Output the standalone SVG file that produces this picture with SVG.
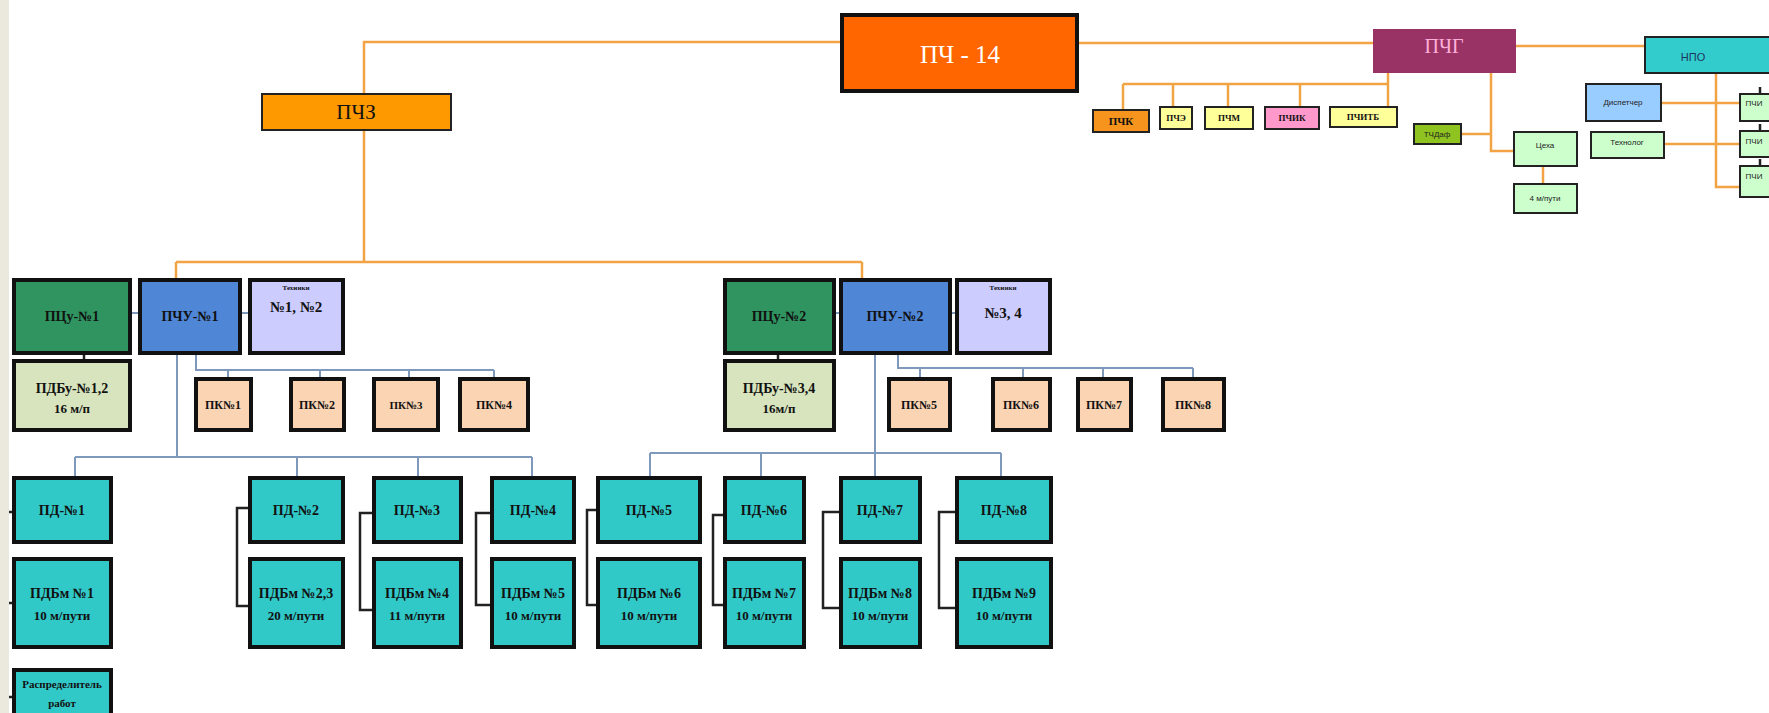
<svg xmlns="http://www.w3.org/2000/svg" width="1769" height="713" viewBox="0 0 1769 713">
<style>
  .t{font-family:"Liberation Serif","DejaVu Serif",serif;font-weight:bold;fill:#111;text-anchor:middle;dominant-baseline:central}
  .s{font-family:"Liberation Sans","DejaVu Sans",sans-serif;fill:#222;text-anchor:middle;dominant-baseline:central}
  .or{stroke:#f2a444;stroke-width:2.5;fill:none}
  .bl{stroke:#7f99bd;stroke-width:2;fill:none}
  .bk{stroke:#222;stroke-width:2.5;fill:none}
  .thick{stroke:#111;stroke-width:4}
  .thin{stroke:#222;stroke-width:2}
  .pd{fill:#31c8c8}
  .pk{fill:#fbd4b3}
</style>
<rect x="0" y="0" width="1769" height="713" fill="#ffffff"/>
<rect x="0" y="0" width="9" height="713" fill="#ebe8dd"/>

<g id="connectors">
  <!-- orange top -->
  <polyline class="or" points="364,262 364,42 840,42"/>
  <line class="or" x1="1079" y1="43" x2="1373" y2="43"/>
  <line class="or" x1="1516" y1="46" x2="1645" y2="46"/>
  <line class="or" x1="176" y1="262" x2="862" y2="262"/>
  <line class="or" x1="176" y1="262" x2="176" y2="279"/>
  <line class="or" x1="862" y1="262" x2="862" y2="279"/>
  <!-- small row -->
  <line class="or" x1="1123" y1="84" x2="1388" y2="84"/>
  <line class="or" x1="1388" y1="73" x2="1388" y2="107"/>
  <line class="or" x1="1123" y1="84" x2="1123" y2="110"/>
  <line class="or" x1="1173" y1="84" x2="1173" y2="107"/>
  <line class="or" x1="1228" y1="84" x2="1228" y2="107"/>
  <line class="or" x1="1300" y1="84" x2="1300" y2="107"/>
  <polyline class="or" points="1491,73 1491,151 1514,151"/>
  <line class="or" x1="1461" y1="134" x2="1491" y2="134"/>
  <line class="or" x1="1543" y1="166" x2="1543" y2="184"/>
  <polyline class="or" points="1716,73 1716,187 1740,187"/>
  <line class="or" x1="1661" y1="103" x2="1740" y2="103"/>
  <line class="or" x1="1664" y1="144" x2="1740" y2="144"/>
  <line class="bk" x1="1760" y1="87" x2="1760" y2="94"/>
  <line class="bk" x1="1760" y1="124" x2="1760" y2="131"/>
  <line class="bk" x1="1760" y1="159" x2="1760" y2="166"/>
  <!-- left unit -->
  <line class="bl" x1="130" y1="313" x2="139" y2="313"/>
  <line class="bl" x1="240" y1="313" x2="249" y2="313"/>
  <line class="bk" x1="84" y1="353" x2="84" y2="360"/>
  <polyline class="bl" points="196,353 196,370 494,370"/>
  <line class="bl" x1="228" y1="370" x2="228" y2="379"/>
  <line class="bl" x1="320" y1="370" x2="320" y2="379"/>
  <line class="bl" x1="409" y1="370" x2="409" y2="379"/>
  <line class="bl" x1="494" y1="370" x2="494" y2="379"/>
  <line class="bl" x1="177" y1="353" x2="177" y2="457"/>
  <line class="bl" x1="75" y1="457" x2="532" y2="457"/>
  <line class="bl" x1="75" y1="457" x2="75" y2="477"/>
  <line class="bl" x1="297" y1="457" x2="297" y2="477"/>
  <line class="bl" x1="418" y1="457" x2="418" y2="477"/>
  <line class="bl" x1="532" y1="457" x2="532" y2="477"/>
  <!-- right unit -->
  <line class="bl" x1="834" y1="313" x2="840" y2="313"/>
  <line class="bl" x1="950" y1="313" x2="956" y2="313"/>
  <line class="bk" x1="778" y1="353" x2="778" y2="360"/>
  <polyline class="bl" points="898,353 898,368 1193,368"/>
  <line class="bl" x1="920" y1="368" x2="920" y2="379"/>
  <line class="bl" x1="1023" y1="368" x2="1023" y2="379"/>
  <line class="bl" x1="1103" y1="368" x2="1103" y2="379"/>
  <line class="bl" x1="1193" y1="368" x2="1193" y2="379"/>
  <line class="bl" x1="875" y1="353" x2="875" y2="477"/>
  <line class="bl" x1="650" y1="453" x2="1001" y2="453"/>
  <line class="bl" x1="650" y1="453" x2="650" y2="477"/>
  <line class="bl" x1="761" y1="453" x2="761" y2="477"/>
  <line class="bl" x1="1001" y1="453" x2="1001" y2="477"/>
  <!-- brackets -->
  <polyline class="bk" points="249,508 237,508 237,606 249,606"/>
  <polyline class="bk" points="373,513 360,513 360,610 373,610"/>
  <polyline class="bk" points="491,513 476,513 476,605 491,605"/>
  <polyline class="bk" points="597,510 587,510 587,605 597,605"/>
  <polyline class="bk" points="724,515 713,515 713,605 724,605"/>
  <polyline class="bk" points="840,512 823,512 823,608 840,608"/>
  <polyline class="bk" points="956,512 939,512 939,608 956,608"/>
  <line class="bk" x1="9" y1="512" x2="13" y2="512"/>
  <line class="bk" x1="9" y1="603" x2="13" y2="603"/>
  <line class="bk" x1="9" y1="697" x2="13" y2="697"/>
</g>

<g id="pch14"><rect x="842" y="15" width="235" height="76" fill="#ff6600" class="thick"/><text class="t" x="960" y="54" font-size="25" fill="#fff" style="fill:#fff;font-weight:normal">ПЧ - 14</text></g>
<g id="pchz"><rect x="262" y="94" width="189" height="36" fill="#ff9900" class="thin"/><text class="t" x="356" y="112" font-size="21" style="font-weight:normal">ПЧЗ</text></g>
<g id="pchg"><rect x="1373" y="29" width="143" height="44" fill="#993366"/><text class="t" x="1444" y="46" font-size="20" style="fill:#ffb0d8;font-weight:normal">ПЧГ</text></g>
<g id="npo"><rect x="1645" y="37" width="130" height="36" fill="#33cccc" class="thin"/><text class="s" x="1693" y="57" font-size="11" style="fill:#1d3560">НПО</text></g>

<g id="pchk"><rect x="1093" y="110" width="56" height="22" fill="#f7941d" class="thin"/><text class="t" x="1121" y="121" font-size="11">ПЧК</text></g>
<g id="pche"><rect x="1160" y="107" width="32" height="22" fill="#ffff99" class="thin"/><text class="t" x="1176" y="118" font-size="9">ПЧЭ</text></g>
<g id="pchm"><rect x="1205" y="107" width="48" height="22" fill="#ffff99" class="thin"/><text class="t" x="1229" y="118" font-size="9">ПЧМ</text></g>
<g id="pchik"><rect x="1265" y="107" width="54" height="22" fill="#ff99cc" class="thin"/><text class="t" x="1292" y="118" font-size="9">ПЧИК</text></g>
<g id="pchitb"><rect x="1330" y="107" width="67" height="20" fill="#ffff99" class="thin"/><text class="t" x="1363" y="117" font-size="9">ПЧИТБ</text></g>
<g id="tchdaf"><rect x="1414" y="124" width="47" height="20" fill="#8fc31f" class="thin"/><text class="s" x="1437" y="134" font-size="8">ТЧДаф</text></g>
<g id="cekha"><rect x="1514" y="132" width="63" height="34" fill="#ccffcc" class="thin"/><text class="s" x="1545" y="145" font-size="8">Цеха</text></g>
<g id="m4"><rect x="1514" y="184" width="63" height="29" fill="#ccffcc" class="thin"/><text class="s" x="1545" y="198" font-size="8">4 м/пути</text></g>
<g id="disp"><rect x="1586" y="84" width="75" height="37" fill="#99ccff" class="thin"/><text class="s" x="1623" y="102" font-size="8">Диспетчер</text></g>
<g id="tekhnolog"><rect x="1591" y="132" width="73" height="26" fill="#ccffcc" class="thin"/><text class="s" x="1627" y="142" font-size="8">Технолог</text></g>
<g id="pchi1"><rect x="1740" y="94" width="40" height="27" fill="#ccffcc" class="thin"/><text class="s" x="1754" y="103" font-size="8">ПЧИ</text></g>
<g id="pchi2"><rect x="1740" y="131" width="40" height="26" fill="#ccffcc" class="thin"/><text class="s" x="1754" y="141" font-size="8">ПЧИ</text></g>
<g id="pchi3"><rect x="1740" y="166" width="40" height="31" fill="#ccffcc" class="thin"/><text class="s" x="1754" y="176" font-size="8">ПЧИ</text></g>

<g id="pcu1"><rect x="14" y="280" width="116" height="73" fill="#2f9460" class="thick"/><text class="t" x="72" y="316" font-size="14">ПЦу-№1</text></g>
<g id="pchu1"><rect x="140" y="280" width="100" height="73" fill="#4f86d6" class="thick"/><text class="t" x="190" y="316" font-size="14">ПЧУ-№1</text></g>
<g id="tekh12"><rect x="250" y="280" width="93" height="73" fill="#ccccff" class="thick"/><text class="t" x="296" y="288" font-size="7">Техники</text><text class="t" x="296" y="307" font-size="15">№1, №2</text></g>
<g id="pdbu12"><rect x="14" y="361" width="116" height="69" fill="#d7e4bd" class="thick"/><text class="t" x="72" y="388" font-size="14">ПДБу-№1,2</text><text class="t" x="72" y="408" font-size="13">16 м/п</text></g>
<g id="pk1"><rect x="196" y="379" width="55" height="51" class="pk thick"/><text class="t" x="223" y="405" font-size="12">ПК№1</text></g>
<g id="pk2"><rect x="291" y="379" width="53" height="51" class="pk thick"/><text class="t" x="317" y="405" font-size="12">ПК№2</text></g>
<g id="pk3"><rect x="374" y="379" width="64" height="51" class="pk thick"/><text class="t" x="406" y="405" font-size="11">ПК№3</text></g>
<g id="pk4"><rect x="460" y="379" width="68" height="51" class="pk thick"/><text class="t" x="494" y="405" font-size="12">ПК№4</text></g>

<g id="pcu2"><rect x="725" y="280" width="109" height="73" fill="#2f9460" class="thick"/><text class="t" x="779" y="316" font-size="14">ПЦу-№2</text></g>
<g id="pchu2"><rect x="841" y="280" width="109" height="73" fill="#4f86d6" class="thick"/><text class="t" x="895" y="316" font-size="14">ПЧУ-№2</text></g>
<g id="tekh34"><rect x="957" y="280" width="93" height="73" fill="#ccccff" class="thick"/><text class="t" x="1003" y="288" font-size="7">Техники</text><text class="t" x="1003" y="313" font-size="15">№3, 4</text></g>
<g id="pdbu34"><rect x="725" y="361" width="109" height="69" fill="#d7e4bd" class="thick"/><text class="t" x="779" y="388" font-size="14">ПДБу-№3,4</text><text class="t" x="779" y="408" font-size="13">16м/п</text></g>
<g id="pk5"><rect x="889" y="379" width="61" height="51" class="pk thick"/><text class="t" x="919" y="405" font-size="12">ПК№5</text></g>
<g id="pk6"><rect x="993" y="379" width="57" height="51" class="pk thick"/><text class="t" x="1021" y="405" font-size="12">ПК№6</text></g>
<g id="pk7"><rect x="1078" y="379" width="53" height="51" class="pk thick"/><text class="t" x="1104" y="405" font-size="12">ПК№7</text></g>
<g id="pk8"><rect x="1163" y="379" width="61" height="51" class="pk thick"/><text class="t" x="1193" y="405" font-size="12">ПК№8</text></g>

<g id="pd1"><rect x="14" y="478" width="97" height="64" class="pd thick"/><text class="t" x="62" y="510" font-size="14">ПД-№1</text></g>
<g id="pdbm1"><rect x="14" y="559" width="97" height="88" class="pd thick"/><text class="t" x="62" y="593" font-size="14">ПДБм №1</text><text class="t" x="62" y="615" font-size="13">10 м/пути</text></g>
<g id="raspr"><rect x="14" y="670" width="97" height="50" class="pd thick"/><text class="t" x="62" y="684" font-size="11">Распределитель</text><text class="t" x="62" y="703" font-size="11">работ</text></g>

<g id="pd2"><rect x="250" y="478" width="93" height="64" class="pd thick"/><text class="t" x="296" y="510" font-size="14">ПД-№2</text></g>
<g id="pdbm2"><rect x="250" y="559" width="93" height="88" class="pd thick"/><text class="t" x="296" y="593" font-size="14">ПДБм №2,3</text><text class="t" x="296" y="615" font-size="13">20 м/пути</text></g>
<g id="pd3"><rect x="374" y="478" width="87" height="64" class="pd thick"/><text class="t" x="417" y="510" font-size="14">ПД-№3</text></g>
<g id="pdbm4"><rect x="374" y="559" width="87" height="88" class="pd thick"/><text class="t" x="417" y="593" font-size="14">ПДБм №4</text><text class="t" x="417" y="615" font-size="13">11 м/пути</text></g>
<g id="pd4"><rect x="492" y="478" width="82" height="64" class="pd thick"/><text class="t" x="533" y="510" font-size="14">ПД-№4</text></g>
<g id="pdbm5"><rect x="492" y="559" width="82" height="88" class="pd thick"/><text class="t" x="533" y="593" font-size="14">ПДБм №5</text><text class="t" x="533" y="615" font-size="13">10 м/пути</text></g>
<g id="pd5"><rect x="598" y="478" width="102" height="64" class="pd thick"/><text class="t" x="649" y="510" font-size="14">ПД-№5</text></g>
<g id="pdbm6"><rect x="598" y="559" width="102" height="88" class="pd thick"/><text class="t" x="649" y="593" font-size="14">ПДБм №6</text><text class="t" x="649" y="615" font-size="13">10 м/пути</text></g>
<g id="pd6"><rect x="725" y="478" width="79" height="64" class="pd thick"/><text class="t" x="764" y="510" font-size="14">ПД-№6</text></g>
<g id="pdbm7"><rect x="725" y="559" width="79" height="88" class="pd thick"/><text class="t" x="764" y="593" font-size="14">ПДБм №7</text><text class="t" x="764" y="615" font-size="13">10 м/пути</text></g>
<g id="pd7"><rect x="841" y="478" width="79" height="64" class="pd thick"/><text class="t" x="880" y="510" font-size="14">ПД-№7</text></g>
<g id="pdbm8"><rect x="841" y="559" width="79" height="88" class="pd thick"/><text class="t" x="880" y="593" font-size="14">ПДБм №8</text><text class="t" x="880" y="615" font-size="13">10 м/пути</text></g>
<g id="pd8"><rect x="957" y="478" width="94" height="64" class="pd thick"/><text class="t" x="1004" y="510" font-size="14">ПД-№8</text></g>
<g id="pdbm9"><rect x="957" y="559" width="94" height="88" class="pd thick"/><text class="t" x="1004" y="593" font-size="14">ПДБм №9</text><text class="t" x="1004" y="615" font-size="13">10 м/пути</text></g>
</svg>
